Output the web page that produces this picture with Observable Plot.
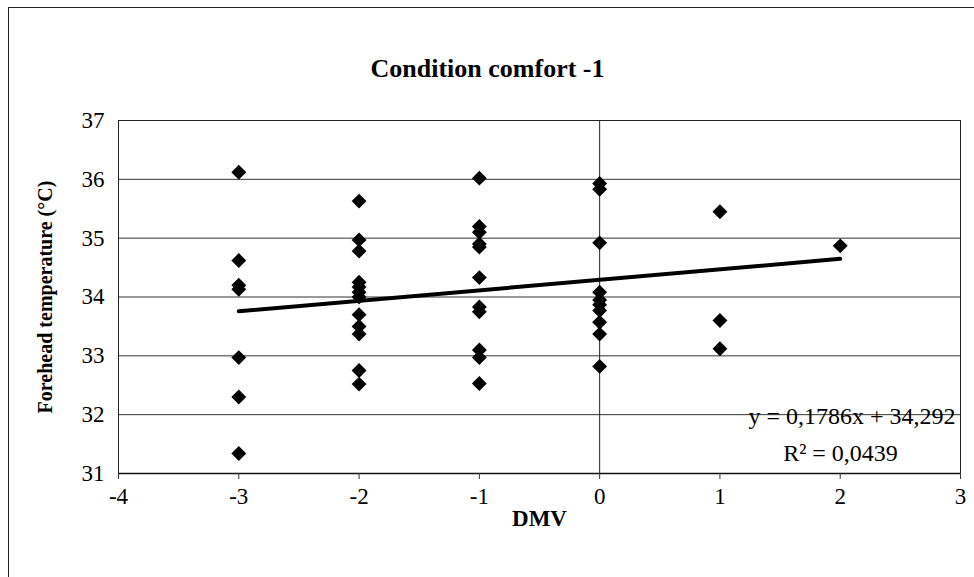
<!DOCTYPE html>
<html>
<head>
<meta charset="utf-8">
<script src="https://cdn.jsdelivr.net/npm/d3@7"></script>
<script src="https://cdn.jsdelivr.net/npm/@observablehq/plot@0.6"></script>
<style>
  html, body { margin: 0; padding: 0; overflow: hidden; background: #fff; }
  #wrap { position: relative; width: 974px; height: 577px; overflow: hidden; }
  #border { position: absolute; left: 8px; top: 7px; width: 1200px; height: 1200px; border: 1.5px solid #222; box-sizing: border-box; }
  #chart { position: absolute; left: 0; top: 0; }
</style>
</head>
<body>
<div id="wrap"><div id="border"></div><div id="chart"></div></div>
<script>
// DMV categories and observed forehead temperatures (°C)
const dmvLevels = [-3, -2, -1, 0, 1, 2];
const tempsAtM3 = [36.12, 34.62, 34.2, 34.13, 32.97, 32.3, 31.34];
const tempsAtM2 = [35.63, 34.97, 34.78, 34.25, 34.17, 34.08, 34.0, 33.7, 33.5, 33.37, 32.75, 32.52];
const tempsAtM1 = [36.02, 35.2, 35.1, 34.9, 34.85, 34.33, 33.83, 33.75, 33.1, 32.97, 32.53];
const tempsAt0 = [35.93, 35.83, 34.92, 34.08, 33.95, 33.87, 33.77, 33.57, 33.37, 32.82];
const tempsAt1 = [35.45, 33.6, 33.12];
const tempsAt2 = [34.87];

// Trend line (as reported on the chart)
const slope = 0.1786;
const intercept = 34.292;
const trendXRange = [-3, 2];

const xTicks = [-4, -3, -2, -1, 0, 1, 2, 3];
const yTicks = [31, 32, 33, 34, 35, 36, 37];

const title = "Condition comfort -1";
const xLabel = "DMV";
const yLabel = "Forehead temperature (°C)";
const eqLabel = "y = 0,1786x + 34,292";
const r2Label = "R² = 0,0439";

const groups = [tempsAtM3, tempsAtM2, tempsAtM1, tempsAt0, tempsAt1, tempsAt2];
const points = [];
groups.forEach((arr, i) => arr.forEach(t => points.push({dmv: dmvLevels[i], temp: t})));
const trend = trendXRange.map(x => ({dmv: x, temp: intercept + slope * x}));

const font = "'Liberation Serif', 'Times New Roman', serif";
const fmt = d => String(d);

const chart = Plot.plot({
  width: 974,
  height: 577,
  marginLeft: 118,
  marginRight: 14,
  marginTop: 120,
  marginBottom: 104,
  style: {fontFamily: font, fontSize: "22px", color: "#000", background: "transparent"},
  x: {domain: [-4, 3], ticks: xTicks},
  y: {domain: [31, 37], ticks: yTicks},
  marks: [
    Plot.gridY(yTicks, {stroke: "#333", strokeOpacity: 1, strokeWidth: 1}),
    Plot.ruleX([0], {stroke: "#222", strokeWidth: 1}),
    Plot.frame({stroke: "#222", strokeWidth: 1}),
    Plot.ruleY([31], {stroke: "#111", strokeWidth: 1.5}),
    Plot.axisY(yTicks, {tickSize: 0, tickPadding: 14, fontSize: 23, label: null, tickFormat: fmt}),
    Plot.axisX(xTicks, {tickSize: 6, tickPadding: 8, fontSize: 23, label: null, stroke: "#333", tickFormat: fmt}),
    Plot.line(trend, {x: "dmv", y: "temp", stroke: "#000", strokeWidth: 4}),
    Plot.dot(points, {x: "dmv", y: "temp", symbol: "diamond2", fill: "#000", r: 6.7}),
    Plot.text([title], {frameAnchor: "top", dx: -52, dy: -62, fontSize: 26, fontWeight: "bold", text: d => d}),
    Plot.text([xLabel], {frameAnchor: "bottom", dy: 52, fontSize: 23, fontWeight: "bold", text: d => d}),
    Plot.text([yLabel], {frameAnchor: "left", dx: -73, rotate: -90, textAnchor: "middle", fontSize: 20, fontWeight: "bold", text: d => d}),
    Plot.text([eqLabel], {frameAnchor: "bottom-right", dx: -5, dy: -50, textAnchor: "end", fontSize: 24, text: d => d}),
    Plot.text([r2Label], {frameAnchor: "bottom-right", dx: -120, dy: -13, textAnchor: "middle", fontSize: 24, text: d => d})
  ]
});
document.getElementById("chart").appendChild(chart);
</script>
</body>
</html>
